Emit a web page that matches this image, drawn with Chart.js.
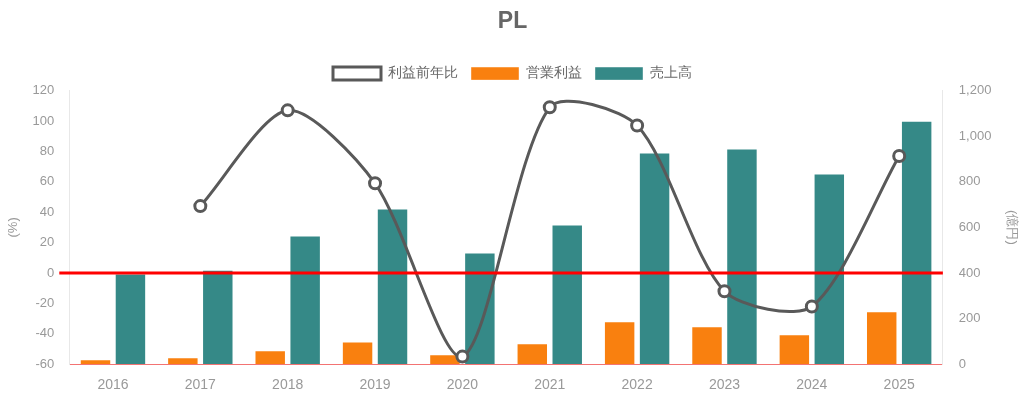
<!DOCTYPE html>
<html>
<head>
<meta charset="utf-8">
<script src="https://cdn.jsdelivr.net/npm/chart.js@4"></script>
<style>
  html, body { margin: 0; padding: 0; background: #fff; }
  #wrap { width: 1024px; height: 399px; }
</style>
</head>
<body>
<div id="wrap"><canvas id="plChart"></canvas></div>
<script>
const years = ['2016','2017','2018','2019','2020','2021','2022','2023','2024','2025'];
const riekiZennenhi = [null, 44, 107, 59, -55, 109, 97, -12, -22, 77];
const eigyoRieki = [22, 31, 61, 100, 44, 92, 188, 166, 131, 232];
const uriage = [398, 414, 565, 683, 490, 613, 928, 946, 836, 1068];

const grey = '#999';
const fam = 'Liberation Sans, Arial, sans-serif';
const font = { family: fam, size: 13 };

// 0% の赤線（棒の上に描く）
const zeroLine = {
  id: 'zeroLine',
  afterDatasetsDraw(chart) {
    const y = chart.scales.yPct.getPixelForValue(0);
    const { left, right } = chart.chartArea;
    const ctx = chart.ctx;
    ctx.save();
    ctx.strokeStyle = '#ff0000';
    ctx.lineWidth = 3;
    ctx.beginPath();
    ctx.moveTo(left - 10, y);
    ctx.lineTo(right, y);
    ctx.stroke();
    ctx.restore();
  }
};

new Chart(document.getElementById('plChart'), {
  data: {
    labels: years,
    datasets: [
      {
        type: 'line', label: '利益前年比', data: riekiZennenhi, yAxisID: 'yPct',
        borderColor: '#595959', backgroundColor: '#fff', borderWidth: 3,
        tension: 0.27, pointRadius: 5.5, pointBorderWidth: 3,
        pointBackgroundColor: '#fff', pointBorderColor: '#595959', order: 0
      },
      {
        type: 'bar', label: '営業利益', data: eigyoRieki, yAxisID: 'yYen',
        backgroundColor: '#f9800f', borderColor: 'rgba(255,255,255,0.4)', borderWidth: 1, order: 1
      },
      {
        type: 'bar', label: '売上高', data: uriage, yAxisID: 'yYen',
        backgroundColor: '#358987', borderColor: 'rgba(255,255,255,0.4)', borderWidth: 1, order: 2
      }
    ]
  },
  options: {
    responsive: true,
    maintainAspectRatio: false,
    animation: false,
    layout: { padding: { left: 2, right: 1, bottom: 0 } },
    plugins: {
      title: {
        display: true, text: 'PL', color: '#666',
        font: { family: fam, size: 23, weight: 'bold' },
        padding: { top: 8, bottom: 18 }
      },
      legend: {
        labels: {
          color: '#666', font: { family: fam, size: 14 },
          boxWidth: 48, boxHeight: 13, padding: 13
        }
      },
      tooltip: { enabled: false }
    },
    scales: {
      x: {
        grid: { display: false },
        border: { display: true, color: 'rgba(240,80,80,0.8)', width: 1 },
        ticks: { color: grey, font: { family: fam, size: 14 }, padding: 5 }
      },
      yPct: {
        position: 'left', min: -60, max: 120,
        ticks: { stepSize: 20, color: grey, font, padding: 7 },
        grid: { display: false },
        border: { display: true, color: '#e8e8e8' },
        title: { display: true, text: '(%)', color: grey, font }
      },
      yYen: {
        position: 'right', min: 0, max: 1200,
        ticks: { stepSize: 200, color: grey, font, padding: 8, callback: v => v.toLocaleString('en-US') },
        grid: { display: false },
        border: { display: true, color: '#e8e8e8' },
        title: { display: true, text: '(億円)', color: grey, font }
      }
    }
  },
  plugins: [zeroLine]
});
</script>
</body>
</html>
